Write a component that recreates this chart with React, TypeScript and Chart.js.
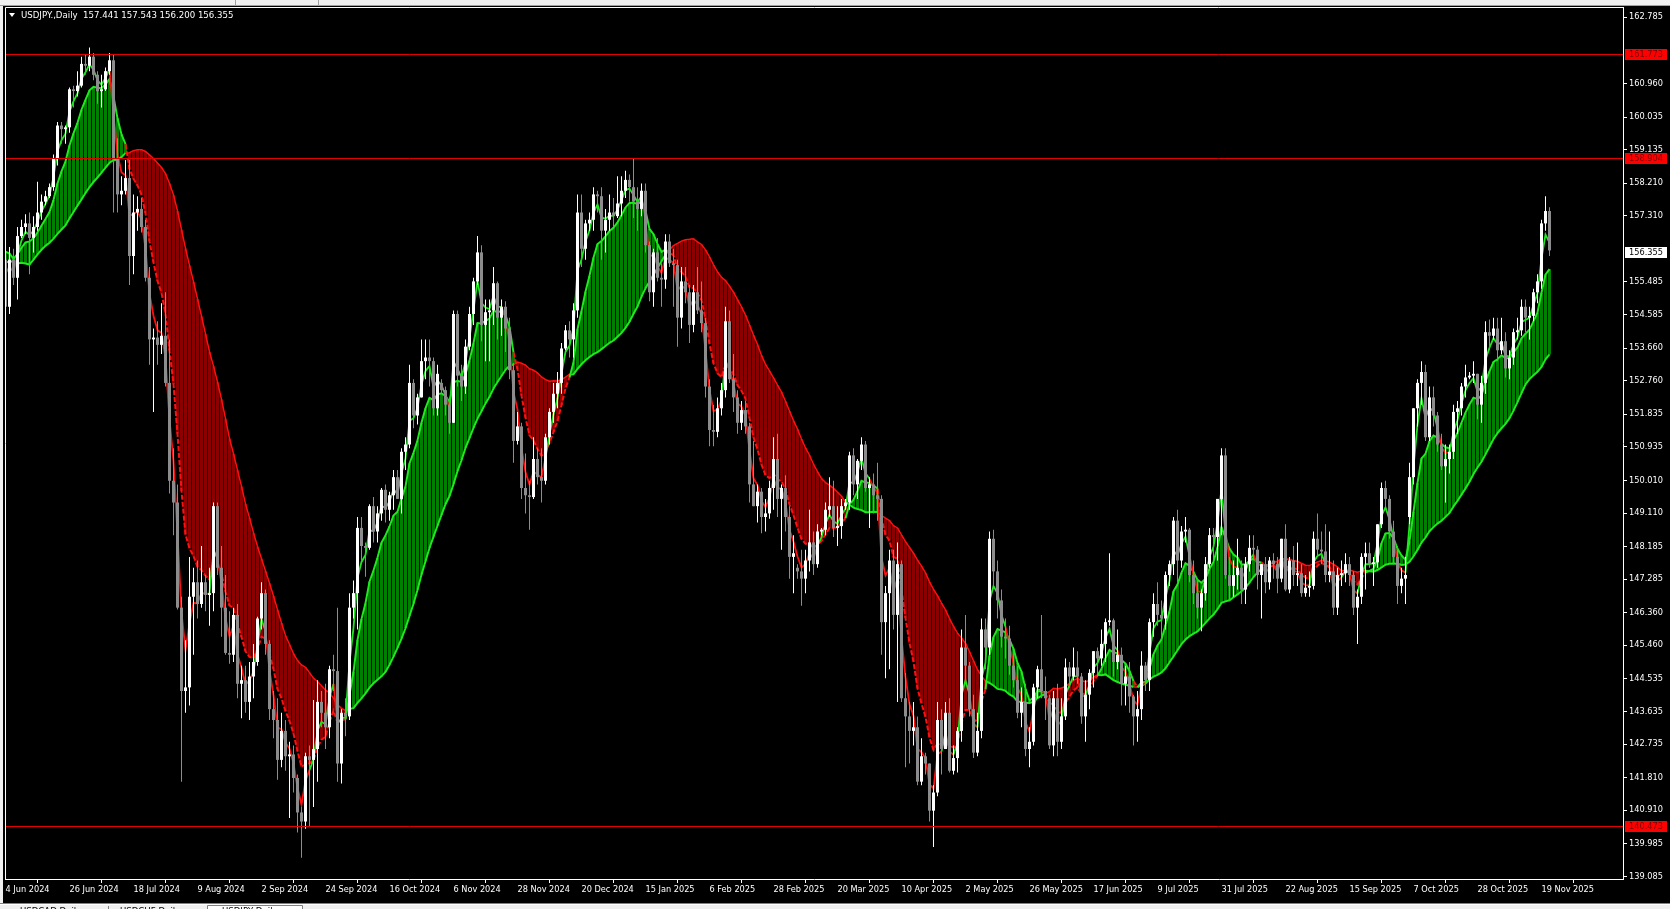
import React, { useEffect, useRef } from "react";
import { Chart, registerables } from "chart.js";
Chart.register(...registerables);

// ---- Data (USDJPY Daily) ----
// closes before the first visible bar, needed only to warm up the moving averages
const priorCloses = [154.8, 154.8, 155.3, 155.6, 158.3, 156.4, 157.8, 157.5, 153.0, 153.0, 153.9, 154.6, 155.5, 155.5, 155.8, 156.2, 156.4, 154.9, 155.4, 155.7, 156.3, 156.2, 156.8, 157.0, 157.0, 156.8, 157.1, 157.6, 156.8, 157.3, 156.1];

const opens = [
156.10,154.80,156.10,155.60,156.75,157.00,157.10,156.70,157.00,157.40,
157.70,157.85,158.10,158.90,159.80,159.70,159.75,160.80,160.75,160.90,
161.50,161.45,161.70,161.20,160.75,160.80,161.30,161.60,158.90,157.90,
158.00,158.35,156.20,157.40,157.50,157.00,155.60,153.90,153.95,153.75,
154.00,152.70,150.00,149.40,146.50,144.20,144.30,146.80,147.20,146.60,
147.20,146.85,146.90,149.30,147.60,146.50,145.25,145.20,146.30,144.40,
144.50,143.90,144.60,145.00,146.20,146.90,145.50,143.70,143.40,142.30,
143.10,142.40,142.45,141.80,140.85,140.60,142.40,142.30,142.60,143.90,
143.60,143.20,144.80,144.75,142.20,143.60,143.50,146.50,146.90,148.70,
148.20,148.15,149.30,148.60,149.10,149.75,149.20,149.60,150.10,149.50,
150.80,151.00,152.70,151.80,152.30,153.30,153.40,153.30,152.00,152.70,
152.50,152.10,151.60,154.60,152.90,152.60,153.70,154.60,155.50,156.30,
154.30,154.65,154.70,155.45,154.50,154.80,154.20,153.05,151.10,151.50,
149.80,149.60,149.55,150.60,150.10,150.00,151.20,151.90,152.40,152.70,
153.65,154.15,153.90,154.70,157.40,156.40,157.10,157.20,157.90,157.85,
156.90,157.20,157.40,157.30,157.65,158.00,158.30,158.10,157.70,157.50,
158.00,156.50,155.20,156.30,155.60,155.55,156.60,156.00,155.95,154.50,
155.50,155.20,154.30,155.20,154.70,154.35,152.60,151.40,151.35,152.00,
152.50,154.40,152.80,152.30,151.60,151.95,151.50,149.90,149.30,149.70,
149.00,149.10,149.80,150.60,149.50,149.80,149.00,147.90,147.60,147.50,
147.30,147.80,148.30,147.70,148.60,148.65,149.20,149.30,148.70,148.75,
149.30,149.40,150.70,149.90,150.55,151.00,149.80,149.90,149.60,149.50,
146.10,146.90,147.80,146.30,147.70,144.00,143.50,143.10,143.20,141.70,
142.40,142.20,140.90,141.40,143.40,142.60,143.60,142.00,142.35,143.10,
145.40,144.90,143.70,142.50,143.10,145.90,145.40,148.40,147.50,146.70,
145.70,145.65,144.90,144.50,143.60,143.90,142.60,142.80,144.30,144.80,
144.20,144.00,142.70,144.00,142.80,143.50,144.85,144.60,144.85,144.60,
143.50,144.10,144.70,145.30,145.10,145.50,146.10,146.15,145.00,145.20,
144.40,144.60,144.05,143.50,143.70,144.90,144.50,146.10,146.60,146.30,
146.20,147.40,147.70,148.90,147.80,148.60,148.65,147.40,146.90,146.50,
146.90,147.70,148.50,148.45,149.50,150.70,147.40,147.10,147.40,147.60,
147.00,147.70,148.15,148.10,147.40,147.70,147.20,147.80,147.70,147.30,
148.40,147.00,147.80,147.40,147.45,146.90,147.05,147.10,148.40,148.10,
148.05,147.40,147.50,146.50,147.40,147.45,147.70,147.40,146.50,146.80,
147.90,148.00,147.70,147.75,148.80,149.80,149.50,148.60,147.90,147.10,
147.30,149.00,150.10,152.00,152.70,153.00,151.20,152.30,151.80,151.00,
150.40,150.60,150.80,151.90,152.00,152.60,152.85,152.90,152.95,152.10,
152.70,154.10,154.00,154.20,153.60,153.85,153.10,153.40,154.10,154.15,
154.80,154.50,154.55,155.20,155.50,157.10,157.441];

const highs = [
156.30,156.45,156.40,157.00,157.20,157.35,157.40,157.30,158.25,157.90,
158.00,158.20,159.00,159.90,159.90,159.80,160.85,160.90,161.30,161.70,
161.75,161.95,161.80,161.30,161.20,161.40,161.80,161.75,159.45,158.40,
158.85,158.85,157.90,157.85,157.80,157.20,155.90,154.20,154.40,154.90,
155.20,153.90,150.90,149.90,146.80,145.60,147.90,147.60,147.80,148.20,
147.40,147.60,149.40,149.40,148.20,147.40,146.40,146.50,146.60,144.90,
144.90,145.00,145.50,146.25,147.20,147.00,145.60,144.20,144.00,143.60,
143.40,142.80,142.70,141.90,141.00,142.50,142.70,143.95,144.50,144.20,
144.40,144.90,145.20,146.50,143.70,144.00,146.90,147.25,149.00,149.00,
148.30,149.35,149.55,149.30,149.80,149.90,149.70,150.30,150.30,150.90,
151.20,153.20,152.80,152.40,153.90,153.90,153.90,153.40,153.20,152.80,
152.60,152.30,154.70,154.70,153.20,153.90,154.80,155.60,156.75,156.50,
155.00,155.00,155.90,155.50,155.00,154.95,154.50,153.25,151.90,151.60,
150.75,150.00,151.20,150.90,150.90,151.30,152.00,152.70,153.00,153.80,
154.30,154.40,154.90,157.90,157.90,157.20,157.40,158.10,158.00,158.10,
157.50,157.90,157.80,158.40,158.40,158.55,158.45,158.90,158.10,158.20,
158.20,156.60,156.40,156.70,156.00,156.80,156.80,156.40,156.10,155.90,
155.90,155.40,155.40,155.90,155.50,154.50,152.80,152.10,152.30,152.70,
154.80,154.70,153.50,152.50,152.20,152.20,151.60,151.10,149.90,149.80,
149.50,150.00,151.20,151.30,149.90,150.15,149.30,148.50,147.70,148.10,
148.10,149.20,148.60,148.80,148.70,149.40,150.10,150.00,149.30,149.50,
149.50,150.80,150.90,150.60,151.20,151.10,150.10,150.20,150.50,149.60,
147.10,148.10,148.10,148.30,147.80,144.70,143.90,143.90,143.50,142.90,
142.50,142.20,141.60,143.90,143.70,143.90,144.00,142.70,143.20,145.90,
146.30,145.00,144.10,143.60,146.20,146.20,148.60,148.65,147.80,147.00,
146.20,146.00,145.30,144.90,144.30,144.40,143.20,144.40,144.90,146.30,
144.60,144.10,144.20,144.40,144.00,145.10,145.00,145.40,145.30,144.70,
144.50,144.80,145.30,145.40,145.90,146.20,148.00,146.20,145.90,145.40,
144.90,145.00,144.10,144.20,145.30,145.00,146.20,146.90,147.20,146.70,
147.50,147.80,149.00,149.20,148.75,149.00,148.70,147.80,147.30,147.00,
147.90,148.70,148.70,149.50,150.90,150.90,147.90,147.80,148.40,147.80,
147.90,148.50,148.50,148.20,147.60,147.90,147.90,148.00,147.90,148.40,
148.80,147.90,148.20,148.30,147.70,147.40,147.50,148.60,149.10,148.60,
148.80,148.60,147.80,147.60,147.80,148.00,147.90,147.50,147.00,148.00,
148.30,148.30,147.90,148.80,149.95,150.00,149.60,148.90,148.20,147.60,
147.90,150.50,152.00,152.80,153.30,153.20,152.60,152.60,151.90,151.30,
151.00,151.00,152.10,152.20,152.70,153.20,153.00,153.30,152.95,152.90,
154.40,154.45,154.50,154.50,154.50,154.10,153.60,154.20,154.50,155.00,
155.00,154.80,155.30,155.70,157.20,157.85,157.543];

const lows = [
154.55,154.60,155.40,155.00,156.70,156.80,155.70,156.30,156.90,157.20,
157.60,157.80,158.00,158.70,159.30,159.30,159.60,160.30,160.60,160.85,
161.20,161.30,161.05,160.40,160.30,160.75,161.20,157.40,157.40,157.60,
157.90,155.40,155.70,156.90,156.85,155.50,153.20,151.90,153.20,153.50,
152.60,149.65,148.50,146.45,141.70,143.60,143.80,145.20,146.20,146.50,
146.40,146.00,146.40,147.40,145.70,145.20,144.95,145.00,144.00,143.45,
143.60,143.40,144.00,144.90,145.90,145.20,143.40,142.90,141.75,142.10,
142.00,140.70,141.40,140.30,139.60,140.40,140.45,141.00,141.70,143.20,
142.60,142.90,144.20,141.70,141.65,142.95,143.40,146.20,145.90,147.80,
147.35,148.10,148.30,148.30,148.90,148.85,148.90,149.20,149.50,149.10,
150.30,150.90,151.45,151.55,152.30,152.80,152.60,151.80,151.80,152.40,
151.80,151.30,151.60,152.60,152.20,152.40,153.60,154.30,155.40,153.85,
153.30,153.30,154.30,153.90,154.00,153.55,152.80,150.50,151.00,149.50,
149.10,148.65,149.50,149.90,149.40,149.90,151.00,151.60,152.00,152.40,
153.60,153.40,153.40,154.50,155.90,156.10,156.90,156.90,157.40,156.10,
156.30,156.90,157.00,157.25,157.30,157.80,157.70,157.25,156.90,157.30,
156.30,154.95,154.80,155.50,154.80,155.30,155.90,154.80,153.70,154.20,
154.90,153.80,154.10,154.60,154.10,152.30,150.95,150.95,151.20,151.80,
152.30,152.70,151.90,151.30,151.40,151.30,149.40,149.30,148.85,148.55,
148.60,148.95,149.20,149.00,148.10,148.60,147.30,146.90,147.30,146.55,
146.90,147.50,147.40,147.60,148.50,148.50,149.00,148.45,148.20,148.40,
149.20,149.20,149.60,149.50,150.30,149.70,148.70,149.10,148.90,145.20,
144.55,144.80,145.90,143.90,143.90,142.10,142.20,142.70,141.60,141.60,
141.90,140.60,139.90,141.30,141.90,142.60,141.95,141.90,141.95,142.80,
144.40,143.50,142.35,142.40,142.90,144.80,145.20,147.10,146.20,145.40,
145.10,144.65,144.30,143.45,143.20,142.40,142.10,142.70,144.00,144.00,
143.40,142.60,142.40,142.40,142.60,143.40,144.30,144.50,144.40,143.30,
142.80,143.70,144.30,144.60,144.90,145.00,146.00,144.60,144.80,143.80,
143.80,143.60,142.70,142.80,143.40,144.20,144.20,145.70,146.00,145.60,
145.90,147.10,147.40,147.20,147.60,148.30,147.20,146.60,146.20,145.85,
146.70,147.60,147.80,147.80,148.50,147.30,146.70,146.80,147.00,146.60,
146.60,147.50,147.80,147.00,146.20,146.90,147.00,147.30,146.90,147.20,
146.95,146.90,147.10,147.10,146.80,146.80,146.80,147.00,147.90,147.70,
147.20,147.20,146.30,146.30,147.10,147.20,147.10,146.30,145.50,146.60,
147.00,147.60,147.10,147.60,148.70,149.30,148.40,147.70,146.60,146.90,
146.60,148.80,149.90,151.50,152.10,151.10,151.10,151.50,150.80,150.30,
149.40,150.20,150.60,151.30,151.80,152.30,152.80,152.70,151.70,151.60,
152.40,153.60,153.90,153.30,153.50,152.85,152.80,153.20,153.90,154.00,
154.10,153.90,154.40,154.90,155.30,156.90,156.200];

const closes = [
154.80,156.10,155.60,156.75,157.00,157.10,156.70,157.00,157.40,157.70,
157.85,158.10,158.90,159.80,159.70,159.75,160.80,160.75,160.90,161.50,
161.45,161.70,161.20,160.75,160.80,161.30,161.60,158.90,157.90,158.00,
158.35,156.20,157.40,157.50,157.00,155.60,153.90,153.95,153.75,154.00,
152.70,150.00,149.40,146.50,144.20,144.30,146.80,147.20,146.60,147.20,
146.85,146.90,149.30,147.60,146.50,145.25,145.20,146.30,144.40,144.50,
143.90,144.60,145.00,146.20,146.90,145.50,143.70,143.40,142.30,143.10,
142.40,142.45,141.80,140.85,140.60,142.40,142.30,142.60,143.90,143.60,
143.20,144.80,144.75,142.20,143.60,143.50,146.50,146.90,148.70,148.20,
148.15,149.30,148.60,149.10,149.75,149.20,149.60,150.10,149.50,150.80,
151.00,152.70,151.80,152.30,153.30,153.40,153.30,152.00,152.95,152.50,
152.10,151.60,154.60,152.90,152.60,153.70,154.60,155.50,156.30,154.30,
154.65,154.70,155.45,154.50,154.80,154.20,153.05,151.10,151.50,149.80,
149.60,149.55,150.60,150.10,150.00,151.20,151.90,152.40,152.70,153.65,
154.15,153.90,154.70,157.40,156.40,157.10,157.20,157.90,157.85,156.90,
157.20,157.40,157.30,157.65,158.00,158.30,158.10,157.70,157.50,158.00,
156.50,155.20,156.30,155.60,155.55,156.60,156.00,155.95,154.50,155.50,
155.20,154.30,155.20,154.70,154.35,152.60,151.40,151.35,152.00,152.50,
154.40,152.80,152.30,151.60,151.95,151.50,149.90,149.30,149.70,149.00,
149.10,149.80,150.60,149.50,149.80,149.00,147.90,148.00,147.50,147.30,
147.80,148.30,147.70,148.60,148.65,149.20,149.30,148.70,148.75,149.30,
149.40,150.70,149.90,150.55,151.00,149.80,149.90,149.60,149.50,146.10,
146.90,147.80,146.30,147.70,144.00,143.50,143.10,143.20,141.70,142.40,
142.20,140.90,141.40,143.40,142.60,143.60,142.00,142.35,143.10,145.40,
144.90,143.70,142.50,143.10,145.90,145.40,148.40,147.50,146.70,145.70,
145.65,144.90,144.50,143.60,143.90,142.60,142.80,144.30,144.80,144.20,
144.00,142.70,144.00,142.80,143.50,144.85,144.60,144.85,144.60,143.50,
144.10,144.70,145.30,145.10,145.50,146.10,146.15,145.00,145.20,144.40,
144.60,144.05,143.50,143.70,144.90,144.50,146.10,146.60,146.30,146.20,
147.40,147.70,148.90,147.80,148.60,148.65,147.40,146.90,146.50,146.90,
147.70,148.50,148.45,149.50,150.70,147.40,147.10,147.40,147.60,147.00,
147.70,148.15,148.10,147.40,147.70,147.20,147.80,147.70,147.30,148.40,
147.00,147.80,147.40,147.45,146.90,147.05,147.10,148.40,148.10,148.05,
147.40,147.50,146.50,147.40,147.45,147.70,147.40,146.50,146.80,147.90,
148.00,147.70,147.75,148.80,149.80,149.50,148.60,147.90,147.10,147.30,
147.40,150.10,152.00,152.70,153.00,151.20,152.30,151.80,151.00,150.40,
150.60,150.80,151.90,152.00,152.60,152.85,152.90,152.95,152.10,152.70,
154.10,154.00,154.20,153.60,153.85,153.10,153.40,154.10,154.15,154.80,
154.50,154.55,155.20,155.50,157.10,157.441,156.355];

const dateLabels = ["4 Jun 2024", "26 Jun 2024", "18 Jul 2024", "9 Aug 2024", "2 Sep 2024", "24 Sep 2024", "16 Oct 2024", "6 Nov 2024", "28 Nov 2024", "20 Dec 2024", "15 Jan 2025", "6 Feb 2025", "28 Feb 2025", "20 Mar 2025", "10 Apr 2025", "2 May 2025", "26 May 2025", "17 Jun 2025", "9 Jul 2025", "31 Jul 2025", "22 Aug 2025", "15 Sep 2025", "7 Oct 2025", "28 Oct 2025", "19 Nov 2025"];
const LABEL_STEP = 16;

const priceTicks = [162.785, 160.960, 160.035, 159.135, 158.210, 157.310, 155.485, 154.585, 153.660, 152.760, 151.835, 150.935, 150.010, 149.110, 148.185, 147.285, 146.360, 145.460, 144.535, 143.635, 142.735, 141.810, 140.910, 139.985, 139.085];
const levelLines = [161.773, 158.904, 140.473];
const symbolTitle = "USDJPY.,Daily";
const tabNames = ["USDCAD,Daily", "USDCHF,Daily", "USDJPY,Daily"];
const FAST = 3, MID = 8, SLOW = 30;
const Y_MIN = 139.0143, Y_MAX = 163.0696;
const X_MIN = -0.125, X_MAX = 404.375;

// ---- indicator lines (moving averages of the closes) ----
function ema(a: number[], n: number) { const k = 2 / (n + 1); let e = a[0]; return a.map((v, i) => (e = i === 0 ? v : e + k * (v - e))); }
function sma(a: number[], n: number) { return a.map((_, i) => { const s = Math.max(0, i - n + 1); let t = 0; for (let j = s; j <= i; j++) t += a[j]; return t / (i - s + 1); }); }
const allC = [...priorCloses, ...closes];
const off = priorCloses.length;
const fastMA = ema(allC, FAST).slice(off);
const midMA = ema(allC, MID).slice(off);
const slowMA = sma(allC, SLOW).slice(off);
const trendUp = midMA.map((m, i) => m >= slowMA[i]);
const fastUp = fastMA.map((f, i) => f >= midMA[i]);

const LIME = "#1ee81e", RED = "#ff1010", HGREEN = "#008000", HRED = "#8c0000";
const BULL = "#ffffff", BEAR = "#8c8c8c";
const FONT = "DejaVu Sans";
const BLACK_BOTTOM = 903;

const frame = {
  id: "frame",
  beforeDraw(chart: any) {
    const { ctx, width, height } = chart;
    ctx.save();
    ctx.fillStyle = "#000";
    ctx.fillRect(0, 0, width, height);
    ctx.fillStyle = "#f0f0f0";
    ctx.fillRect(0, 0, width, 5);
    ctx.fillRect(0, 0, 3, height);
    ctx.fillRect(0, BLACK_BOTTOM, width, height - BLACK_BOTTOM);
    ctx.fillStyle = "#a0a0a0";
    ctx.fillRect(235, 0, 1, 5);
    ctx.fillRect(318, 0, 1, 5);
    ctx.fillRect(0, 5, width, 1);
    ctx.restore();
  },
  afterDatasetsDraw(chart: any) {
    const { ctx, chartArea: a, scales } = chart;
    ctx.save();
    ctx.strokeStyle = "#e00000";
    ctx.lineWidth = 1;
    levelLines.forEach((v) => {
      const y = Math.round(scales.y.getPixelForValue(v)) + 0.5;
      ctx.beginPath(); ctx.moveTo(a.left, y); ctx.lineTo(a.right, y); ctx.stroke();
    });
    ctx.restore();
  },
  afterDraw(chart: any) {
    const { ctx, chartArea: a, scales } = chart;
    ctx.save();
    ctx.strokeStyle = "#ffffff";
    ctx.lineWidth = 1;
    ctx.beginPath();
    ctx.moveTo(a.left + 0.5, a.bottom); ctx.lineTo(a.left + 0.5, a.top + 0.5); ctx.lineTo(a.right, a.top + 0.5);
    ctx.stroke();
    ctx.font = `8.2px "${FONT}"`;
    ctx.textBaseline = "middle";
    ctx.textAlign = "left";
    const box = (v: number, bg: string, fg: string, dy: number) => {
      const y = Math.round(scales.y.getPixelForValue(v)) + dy;
      ctx.fillStyle = bg;
      ctx.fillRect(a.right + 2, y - 5, 42, 11);
      ctx.fillStyle = fg;
      ctx.fillText(v.toFixed(3), a.right + 6, y + 0.5);
    };
    levelLines.forEach((v) => box(v, "#ff0000", "#7a0000", 0));
    box(closes[closes.length - 1], "#ffffff", "#000000", 2);
    // title
    ctx.fillStyle = "#ffffff";
    ctx.beginPath(); ctx.moveTo(9, 13); ctx.lineTo(15, 13); ctx.lineTo(12, 17); ctx.closePath(); ctx.fill();
    const n = closes.length - 1;
    ctx.font = `8.6px "${FONT}"`;
    ctx.fillText(`${symbolTitle}  ${opens[n].toFixed(3)} ${highs[n].toFixed(3)} ${lows[n].toFixed(3)} ${closes[n].toFixed(3)}`, 21, 15.5);
    // bottom tabs
    const H = chart.height;
    ctx.fillStyle = "#808080";
    ctx.fillRect(0, BLACK_BOTTOM, 1670, 1);
    ctx.fillStyle = "#ffffff";
    ctx.fillRect(0, BLACK_BOTTOM + 1, 1670, 1);
    ctx.fillStyle = "#ffffff";
    ctx.fillRect(208, BLACK_BOTTOM + 2, 94, H - BLACK_BOTTOM - 2);
    ctx.strokeStyle = "#808080";
    ctx.beginPath();
    ctx.moveTo(207.5, H); ctx.lineTo(207.5, BLACK_BOTTOM + 2.5); ctx.lineTo(302.5, BLACK_BOTTOM + 2.5); ctx.lineTo(302.5, H);
    ctx.moveTo(108.5, H); ctx.lineTo(108.5, BLACK_BOTTOM + 3);
    ctx.stroke();
    ctx.fillStyle = "#000000";
    ctx.font = `8.6px "${FONT}"`;
    ctx.textBaseline = "top";
    const tabX = [20, 120, 222];
    tabNames.forEach((t, k) => ctx.fillText(t, tabX[k], BLACK_BOTTOM + 4));
    ctx.restore();
  },
};

export default function App() {
  const ref = useRef<HTMLCanvasElement>(null);
  useEffect(() => {
    document.body.style.margin = "0";
    const idx = closes.map((_, i) => i);
    const chart = new Chart(ref.current as HTMLCanvasElement, {
      type: "bar",
      data: {
        datasets: [
          {
            type: "bar", label: "hist", order: 10,
            data: idx.map((i) => ({ x: i, y: [slowMA[i], midMA[i]] })) as any,
            backgroundColor: idx.map((i) => (trendUp[i] ? HGREEN : HRED)),
            barThickness: 3, grouped: false, borderWidth: 0, inflateAmount: 0,
          } as any,
          {
            type: "line", label: "slow", order: 6,
            data: idx.map((i) => ({ x: i, y: slowMA[i] })),
            borderWidth: 2, pointRadius: 0, tension: 0, borderColor: LIME,
            segment: { borderColor: (c: any) => (trendUp[c.p1DataIndex] ? LIME : RED), borderWidth: (c: any) => (trendUp[c.p1DataIndex] ? 2 : 1.5) },
          } as any,
          {
            type: "line", label: "mid", order: 5,
            data: idx.map((i) => ({ x: i, y: midMA[i] })),
            borderWidth: 2, pointRadius: 0, tension: 0, borderColor: LIME,
            segment: {
              borderColor: (c: any) => (trendUp[c.p1DataIndex] ? LIME : RED),
              borderDash: (c: any) => (trendUp[c.p1DataIndex] ? [] : [5, 2]),
              borderWidth: 2,
            },
          } as any,
          {
            type: "line", label: "fast", order: 4,
            data: idx.map((i) => ({ x: i, y: fastMA[i] })),
            borderWidth: 1.8, pointRadius: 0, tension: 0, borderColor: LIME,
            segment: { borderColor: (c: any) => (fastUp[c.p1DataIndex] ? LIME : RED) },
          } as any,
          {
            type: "bar", label: "wick", order: 2,
            data: idx.map((i) => ({ x: i, y: [Math.min(lows[i], opens[i], closes[i]), Math.max(highs[i], opens[i], closes[i])] })) as any,
            backgroundColor: idx.map((i) => (closes[i] >= opens[i] ? BULL : BEAR)),
            barThickness: 1, grouped: false, borderWidth: 0, inflateAmount: 0,
          } as any,
          {
            type: "bar", label: "body", order: 1,
            data: idx.map((i) => ({ x: i, y: [opens[i], closes[i]] })) as any,
            backgroundColor: idx.map((i) => (closes[i] >= opens[i] ? BULL : BEAR)),
            barThickness: 3, grouped: false, borderWidth: 0, inflateAmount: 0, minBarLength: 1,
          } as any,
        ],
      },
      options: {
        responsive: false,
        animation: false,
        devicePixelRatio: 1,
        events: [],
        layout: { padding: { left: 5, top: 7, right: 0, bottom: 0 } },
        plugins: { legend: { display: false }, tooltip: { enabled: false } },
        scales: {
          x: {
            type: "linear", min: X_MIN, max: X_MAX, offset: false,
            afterBuildTicks: (s: any) => { s.ticks = dateLabels.map((_, k) => ({ value: k * LABEL_STEP })); },
            afterFit: (s: any) => { s.height = 30; },
            grid: { display: true, drawOnChartArea: false, drawTicks: true, tickLength: 4, color: "#ffffff" },
            border: { display: true, color: "#ffffff" },
            ticks: {
              autoSkip: false, maxRotation: 0, minRotation: 0, align: "start", padding: 2, color: "#ffffff",
              font: { family: FONT, size: 8.2 },
              callback: (v: any) => dateLabels[Math.round(Number(v) / LABEL_STEP)] ?? "",
            },
          },
          y: {
            type: "linear", position: "right", min: Y_MIN, max: Y_MAX,
            afterBuildTicks: (s: any) => { s.ticks = priceTicks.map((v) => ({ value: v })); },
            afterFit: (s: any) => { s.width = 47; },
            grid: { display: true, drawOnChartArea: false, drawTicks: true, tickLength: 4, color: "#ffffff" },
            border: { display: true, color: "#ffffff" },
            ticks: {
              autoSkip: false, padding: 2, color: "#ffffff", font: { family: FONT, size: 8.2 },
              callback: (v: any) => Number(v).toFixed(3),
            },
          },
        },
      } as any,
      plugins: [frame],
    });
    return () => chart.destroy();
  }, []);
  return (
    <div style={{ position: "absolute", left: 0, top: 0, width: 1670, height: 909, background: "#000" }}>
      <canvas ref={ref} width={1670} height={909} style={{ display: "block", width: 1670, height: 909 }} />
    </div>
  );
}
